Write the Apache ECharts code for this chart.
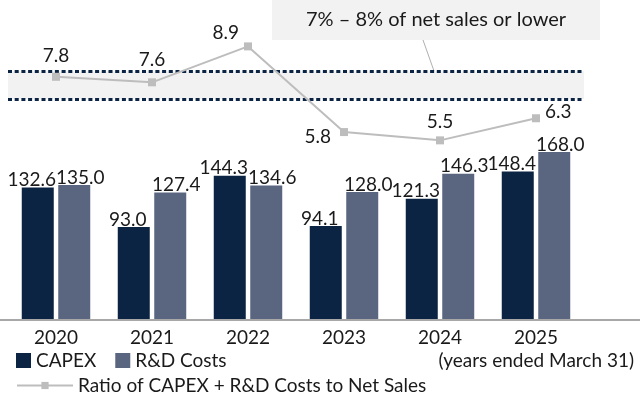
<!DOCTYPE html>
<html>
<head>
<meta charset="utf-8">
<script src="https://cdn.jsdelivr.net/npm/echarts@6/dist/echarts.min.js"></script>
<style>
  html, body { margin: 0; padding: 0; background: #fff; }
  #chart { width: 640px; height: 400px; }
</style>
</head>
<body>
<div id="chart"></div>
<script>
// data
const years = ['2020', '2021', '2022', '2023', '2024', '2025'];
const capex = [132.6, 93.0, 144.3, 94.1, 121.3, 148.4];
const rdCosts = [135.0, 127.4, 134.6, 128.0, 146.3, 168.0];
const ratio = [7.8, 7.6, 8.9, 5.8, 5.5, 6.3];
const targetBand = [7, 8];

// where each ratio label sits: [position, dx, dy]
const ratioLabelAt = [
  ['top', 0, -2], ['top', 0, -4], ['left', 0, -14],
  ['left', -4, 5], ['top', 0, 0], ['right', 0, -6]
];

const FONT = 'Lato, "Noto Sans", sans-serif';
const INK = '#1a1a1a';
const NAVY = '#0c2443';
const SLATE = '#5a6680';
const GREY_LINE = '#bdbdbd';

const chart = echarts.init(document.getElementById('chart'));

const ratioData = ratio.map((v, i) => ({
  value: v,
  label: {
    position: ratioLabelAt[i][0],
    offset: [ratioLabelAt[i][1], ratioLabelAt[i][2]]
  }
}));

chart.setOption({
  animation: false,
  textStyle: { fontFamily: FONT },
  grid: { left: 8, width: 576, top: 16, height: 304 },
  legend: [
    {
      data: ['CAPEX', 'R&D Costs'],
      left: 16, top: 351, padding: 0,
      icon: 'rect',
      itemWidth: 15, itemHeight: 15, itemGap: 19,
      textStyle: { fontFamily: FONT, fontSize: 19, color: INK }
    },
    {
      data: ['Ratio of CAPEX + R&D Costs to Net Sales'],
      left: 16, top: 376, padding: 0,
      itemWidth: 56, itemHeight: 9,
      textStyle: { fontFamily: FONT, fontSize: 19, color: INK }
    }
  ],
  xAxis: {
    type: 'category',
    data: years,
    axisLine: { show: false },
    axisTick: { show: false },
    axisLabel: { fontFamily: FONT, fontSize: 19, color: INK, margin: 8 }
  },
  yAxis: [
    { type: 'value', min: 0, max: 304, show: false },
    { type: 'value', min: -1, max: 10, show: false }
  ],
  series: [
    {
      name: 'CAPEX',
      type: 'bar',
      data: capex,
      barWidth: 32,
      barGap: '14%',
      itemStyle: { color: NAVY },
      label: {
        show: true, position: 'top', distance: -2, offset: [-6, 0],
        fontFamily: FONT, fontSize: 19, color: INK,
        formatter: p => p.value.toFixed(1)
      }
    },
    {
      name: 'R&D Costs',
      type: 'bar',
      data: rdCosts,
      barWidth: 32,
      barGap: '14%',
      itemStyle: { color: SLATE },
      label: {
        show: true, position: 'top', distance: -2, offset: [6, 0],
        fontFamily: FONT, fontSize: 19, color: INK,
        formatter: p => p.value.toFixed(1)
      }
    },
    {
      name: 'Ratio of CAPEX + R&D Costs to Net Sales',
      type: 'line',
      yAxisIndex: 1,
      data: ratioData,
      z: 5,
      symbol: 'rect',
      symbolSize: 8,
      lineStyle: { color: GREY_LINE, width: 2 },
      itemStyle: { color: GREY_LINE },
      label: {
        show: true, distance: 5,
        fontFamily: FONT, fontSize: 19, color: INK,
        formatter: p => p.value.toFixed(1)
      },
      markArea: {
        silent: true,
        itemStyle: { color: '#f2f2f2' },
        data: [[{ yAxis: targetBand[1] }, { yAxis: targetBand[0] }]]
      },
      markLine: {
        silent: true,
        symbol: 'none',
        label: { show: false },
        lineStyle: { color: NAVY, width: 3, type: [4, 2.7] },
        data: targetBand.map(v => ({ yAxis: v }))
      }
    }
  ],
  graphic: [
    {
      type: 'line', silent: true, z: 10,
      shape: { x1: 0, y1: 320, x2: 640, y2: 320 },
      style: { stroke: '#a8a8a8', lineWidth: 2 }
    },
    {
      type: 'rect', silent: true,
      shape: { x: 272, y: 0, width: 328, height: 40 },
      style: { fill: '#f2f2f2' }
    },
    {
      type: 'text', silent: true,
      x: 436, y: 20,
      style: {
        text: '7% – 8% of net sales or lower',
        fontFamily: FONT, fontSize: 20, fill: INK,
        align: 'center', verticalAlign: 'middle'
      }
    },
    {
      type: 'line', silent: true,
      shape: { x1: 423, y1: 40, x2: 434, y2: 71 },
      style: { stroke: '#9a9a9a', lineWidth: 0.8 }
    },
    {
      type: 'text', silent: true,
      x: 634, y: 361,
      style: {
        text: '(years ended March 31)',
        fontFamily: FONT, fontSize: 19, fill: INK,
        align: 'right', verticalAlign: 'middle'
      }
    }
  ]
});
</script>
</body>
</html>
